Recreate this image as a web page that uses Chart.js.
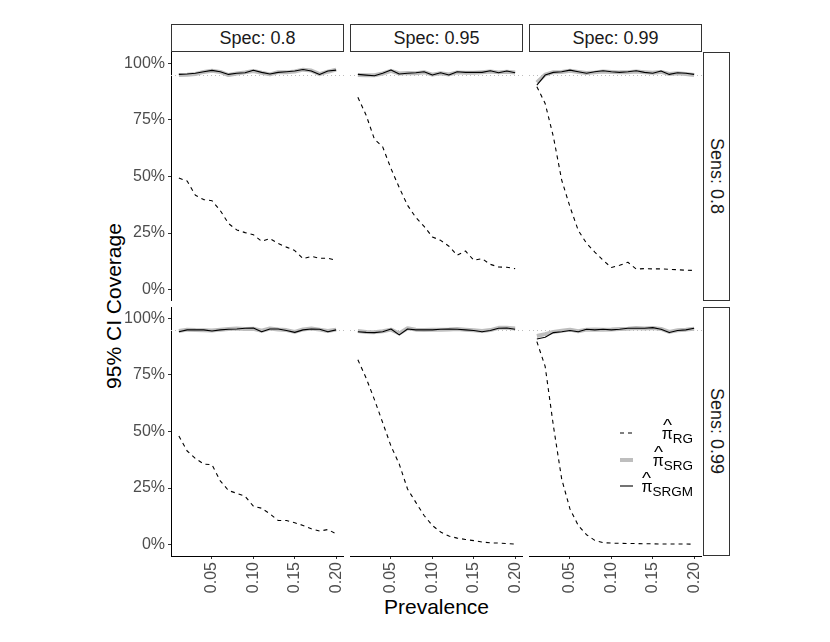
<!DOCTYPE html>
<html>
<head>
<meta charset="utf-8">
<title>95% CI Coverage</title>
<script src="https://cdn.jsdelivr.net/npm/chart.js@4.4.0/dist/chart.umd.min.js"></script>
<style>
    html, body { margin: 0; padding: 0; background: #fff; }
    #wrap {
        position: relative; width: 830px; height: 642px; overflow: hidden;
        font-family: 'Liberation Sans', Arial, Helvetica, sans-serif;
    }
    .panel { position: absolute; }
    .strip {
        position: absolute; box-sizing: border-box; border: 1px solid #333;
        background: #fff; color: #1a1a1a; font-size: 18px;
        display: flex; align-items: center; justify-content: center;
    }
    .strip.side span { writing-mode: vertical-rl; }
    .title { position: absolute; font-size: 21px; line-height: 21px; color: #000; white-space: nowrap; }
    .key { position: absolute; left: 619px; width: 15px; height: 10px; }
    .lab { position: absolute; right: 137px; font-size: 16px; line-height: 16px; color: #000; white-space: nowrap; }
    .pi { position: relative; display: inline-block; }
    .hat { position: absolute; left: 0; right: 0; top: -8px; text-align: center; transform: scaleX(1.2); }
    .sub { font-size: 13.5px; position: relative; top: 4px; }
</style>
</head>
<body>
<div id="wrap">
    <div class="title" style="left:112.5px;top:306px;transform:translate(-50%,-50%) rotate(-90deg);">95% CI Coverage</div>
    <div class="title" style="left:436.5px;top:605.5px;transform:translate(-50%,-50%);">Prevalence</div>
</div>
<script>
    // --- DATA ---
    const X_VALUES = [0.01, 0.02, 0.03, 0.04, 0.05, 0.06, 0.07, 0.08, 0.09, 0.10,
                      0.11, 0.12, 0.13, 0.14, 0.15, 0.16, 0.17, 0.18, 0.19, 0.20];
    const X_TICKS = [0.05, 0.10, 0.15, 0.20];
    const Y_TICKS = [0, 0.25, 0.50, 0.75, 1.00];
    const SPEC_LABELS = ['Spec: 0.8', 'Spec: 0.95', 'Spec: 0.99'];
    const SENS_LABELS = ['Sens: 0.8', 'Sens: 0.99'];
    const NOMINAL = 0.95;

    // Sens 0.8
    const rgSens80Spec80 = [0.493, 0.480, 0.417, 0.398, 0.393, 0.350, 0.292, 0.264, 0.252, 0.243,
                            0.214, 0.226, 0.204, 0.188, 0.173, 0.137, 0.147, 0.139, 0.139, 0.130];
    const srgSens80Spec80 = [0.948, 0.950, 0.953, 0.962, 0.967, 0.962, 0.948, 0.955, 0.960, 0.966,
                             0.958, 0.951, 0.961, 0.960, 0.964, 0.972, 0.968, 0.952, 0.963, 0.972];
    const srgmSens80Spec80 = [0.951, 0.953, 0.956, 0.963, 0.969, 0.963, 0.951, 0.956, 0.958, 0.969,
                              0.960, 0.953, 0.960, 0.963, 0.966, 0.973, 0.966, 0.951, 0.966, 0.970];

    const rgSens80Spec95 = [0.850, 0.771, 0.665, 0.631, 0.535, 0.451, 0.373, 0.319, 0.280, 0.233,
                            0.218, 0.192, 0.152, 0.171, 0.130, 0.137, 0.112, 0.100, 0.099, 0.093];
    const srgSens80Spec95 = [0.948, 0.947, 0.947, 0.955, 0.967, 0.955, 0.957, 0.956, 0.961, 0.950,
                             0.956, 0.951, 0.960, 0.958, 0.958, 0.961, 0.964, 0.960, 0.963, 0.959];
    const srgmSens80Spec95 = [0.951, 0.948, 0.945, 0.956, 0.970, 0.953, 0.956, 0.958, 0.963, 0.948,
                              0.958, 0.948, 0.963, 0.960, 0.960, 0.960, 0.967, 0.958, 0.966, 0.958];

    const rgSens80Spec99 = [0.897, 0.823, 0.675, 0.484, 0.366, 0.262, 0.205, 0.166, 0.130, 0.098,
                            0.108, 0.121, 0.091, 0.093, 0.092, 0.092, 0.090, 0.088, 0.086, 0.085];
    const srgSens80Spec99 = [0.915, 0.950, 0.961, 0.962, 0.967, 0.962, 0.957, 0.960, 0.964, 0.962,
                             0.960, 0.961, 0.964, 0.961, 0.958, 0.962, 0.953, 0.956, 0.953, 0.948];
    const srgmSens80Spec99 = [0.904, 0.948, 0.960, 0.963, 0.970, 0.963, 0.956, 0.963, 0.967, 0.963,
                              0.960, 0.963, 0.967, 0.960, 0.956, 0.966, 0.951, 0.958, 0.956, 0.951];

    // Sens 0.99
    const rgSens99Spec80 = [0.480, 0.414, 0.381, 0.356, 0.353, 0.282, 0.239, 0.227, 0.214, 0.170,
                            0.161, 0.136, 0.107, 0.107, 0.097, 0.085, 0.070, 0.060, 0.067, 0.048];
    const srgSens99Spec80 = [0.944, 0.950, 0.948, 0.947, 0.946, 0.950, 0.953, 0.955, 0.953, 0.954,
                             0.945, 0.955, 0.951, 0.948, 0.940, 0.951, 0.955, 0.950, 0.944, 0.950];
    const srgmSens99Spec80 = [0.941, 0.949, 0.949, 0.949, 0.944, 0.949, 0.952, 0.953, 0.956, 0.957,
                              0.941, 0.953, 0.953, 0.946, 0.938, 0.949, 0.953, 0.952, 0.941, 0.949];

    const rgSens99Spec95 = [0.817, 0.736, 0.641, 0.539, 0.436, 0.356, 0.246, 0.187, 0.129, 0.085,
                            0.056, 0.038, 0.029, 0.023, 0.018, 0.012, 0.008, 0.007, 0.005, 0.003];
    const srgSens99Spec95 = [0.944, 0.940, 0.939, 0.943, 0.950, 0.933, 0.956, 0.950, 0.948, 0.950,
                             0.950, 0.951, 0.953, 0.950, 0.947, 0.944, 0.948, 0.958, 0.958, 0.955];
    const srgmSens99Spec95 = [0.941, 0.938, 0.937, 0.941, 0.953, 0.927, 0.953, 0.949, 0.949, 0.949,
                              0.952, 0.953, 0.952, 0.949, 0.946, 0.941, 0.946, 0.956, 0.957, 0.952];

    const rgSens99Spec99 = [0.897, 0.788, 0.524, 0.290, 0.158, 0.085, 0.044, 0.019, 0.009, 0.007,
                            0.006, 0.005, 0.005, 0.004, 0.004, 0.003, 0.003, 0.003, 0.003, 0.002];
    const srgSens99Spec99 = [0.922, 0.930, 0.940, 0.945, 0.950, 0.943, 0.950, 0.951, 0.950, 0.951,
                             0.953, 0.954, 0.957, 0.955, 0.957, 0.953, 0.940, 0.947, 0.950, 0.954];
    const srgmSens99Spec99 = [0.909, 0.916, 0.937, 0.941, 0.946, 0.941, 0.952, 0.949, 0.952, 0.949,
                              0.952, 0.956, 0.956, 0.956, 0.959, 0.952, 0.937, 0.946, 0.949, 0.956];

    const PANELS = [
        { row: 0, col: 0, rg: rgSens80Spec80, srg: srgSens80Spec80, srgm: srgmSens80Spec80 },
        { row: 0, col: 1, rg: rgSens80Spec95, srg: srgSens80Spec95, srgm: srgmSens80Spec95 },
        { row: 0, col: 2, rg: rgSens80Spec99, srg: srgSens80Spec99, srgm: srgmSens80Spec99 },
        { row: 1, col: 0, rg: rgSens99Spec80, srg: srgSens99Spec80, srgm: srgmSens99Spec80 },
        { row: 1, col: 1, rg: rgSens99Spec95, srg: srgSens99Spec95, srgm: srgmSens99Spec95 },
        { row: 1, col: 2, rg: rgSens99Spec99, srg: srgSens99Spec99, srgm: srgmSens99Spec99 },
    ];

    // --- LAYOUT ---
    const COL_LEFT = [171, 350, 529];
    const ROW_TOP = [52, 307];
    const PANEL_W = 173;
    const PANEL_H = 249;
    const Y_AXIS_W = 71;
    const X_AXIS_H = 62;
    const X_MIN = 0.0005, X_MAX = 0.2095;   // data range + 5% each side
    const Y_MIN = -0.05, Y_MAX = 1.05;

    Chart.defaults.font.family = "'Liberation Sans', Arial, Helvetica, sans-serif";
    Chart.defaults.animation = false;

    const wrap = document.getElementById('wrap');

    // dotted reference line at the nominal coverage
    const nominalLine = {
        id: 'nominalLine',
        beforeDatasetsDraw(chart) {
            const { ctx, chartArea: a, scales: { y } } = chart;
            const py = Math.round(y.getPixelForValue(NOMINAL)) + 0.5;
            ctx.save();
            ctx.strokeStyle = '#bdbdbd';
            ctx.lineWidth = 1;
            ctx.setLineDash([1, 3]);
            ctx.beginPath();
            ctx.moveTo(a.left, py);
            ctx.lineTo(a.right, py);
            ctx.stroke();
            ctx.restore();
        }
    };

    function toPoints(values) {
        return values.map((v, i) => ({ x: X_VALUES[i], y: v }));
    }

    // fix the axis box size and drop the label overflow padding so the plot area is exact
    function fitAxis(axis, size, horizontal) {
        if (horizontal) axis.height = size; else axis.width = size;
        axis.paddingTop = 0;
        axis.paddingBottom = 0;
        axis.paddingLeft = 0;
        axis.paddingRight = 0;
    }

    function createPanel(p) {
        const showY = p.col === 0;
        const showX = p.row === 1;
        const box = document.createElement('div');
        box.className = 'panel';
        box.style.left = (COL_LEFT[p.col] - (showY ? Y_AXIS_W : 0)) + 'px';
        box.style.top = ROW_TOP[p.row] + 'px';
        box.style.width = (PANEL_W + (showY ? Y_AXIS_W : 0)) + 'px';
        box.style.height = (PANEL_H + (showX ? X_AXIS_H : 0)) + 'px';
        const canvas = document.createElement('canvas');
        box.appendChild(canvas);
        wrap.appendChild(box);

        new Chart(canvas, {
            type: 'line',
            data: {
                datasets: [
                    { label: 'SRGM', data: toPoints(p.srgm), borderColor: '#000', borderWidth: 1.1, order: 0 },
                    { label: 'SRG', data: toPoints(p.srg), borderColor: '#bebebe', borderWidth: 4, order: 1 },
                    { label: 'RG', data: toPoints(p.rg), borderColor: '#000', borderWidth: 1.1, borderDash: [4, 4], order: 2 }
                ]
            },
            options: {
                responsive: true,
                maintainAspectRatio: false,
                layout: { padding: 0, autoPadding: false },
                elements: {
                    point: { radius: 0 },
                    line: { tension: 0, fill: false, borderJoinStyle: 'round' }
                },
                plugins: { legend: { display: false }, tooltip: { enabled: false } },
                scales: {
                    x: {
                        type: 'linear',
                        min: X_MIN,
                        max: X_MAX,
                        display: showX,
                        afterBuildTicks: axis => { axis.ticks = X_TICKS.map(v => ({ value: v })); },
                        afterFit: axis => fitAxis(axis, showX ? X_AXIS_H : 0, true),
                        ticks: {
                            autoSkip: false,
                            minRotation: 90,
                            maxRotation: 90,
                            padding: 3,
                            color: '#4d4d4d',
                            font: { size: 16 },
                            callback: v => Number(v).toFixed(2)
                        },
                        grid: { display: true, drawOnChartArea: false, drawTicks: true, tickLength: 3, tickColor: '#333' },
                        border: { display: true, color: '#000', width: 1 }
                    },
                    y: {
                        min: Y_MIN,
                        max: Y_MAX,
                        display: showY,
                        afterBuildTicks: axis => { axis.ticks = Y_TICKS.map(v => ({ value: v })); },
                        afterFit: axis => fitAxis(axis, showY ? Y_AXIS_W : 0, false),
                        ticks: {
                            autoSkip: false,
                            padding: 3,
                            color: '#4d4d4d',
                            font: { size: 16 },
                            callback: v => Math.round(v * 100) + '%'
                        },
                        grid: { display: true, drawOnChartArea: false, drawTicks: true, tickLength: 3, tickColor: '#333' },
                        border: { display: true, color: '#000', width: 1 }
                    }
                }
            },
            plugins: [nominalLine]
        });
    }

    PANELS.forEach(createPanel);

    // --- FACET STRIPS ---
    SPEC_LABELS.forEach((txt, c) => {
        const s = document.createElement('div');
        s.className = 'strip';
        s.style.left = COL_LEFT[c] + 'px';
        s.style.top = '24px';
        s.style.width = PANEL_W + 'px';
        s.style.height = '28px';
        s.textContent = txt;
        wrap.appendChild(s);
    });
    SENS_LABELS.forEach((txt, r) => {
        const s = document.createElement('div');
        s.className = 'strip side';
        s.style.left = '703px';
        s.style.top = ROW_TOP[r] + 'px';
        s.style.width = '27px';
        s.style.height = PANEL_H + 'px';
        const span = document.createElement('span');
        span.textContent = txt;
        s.appendChild(span);
        wrap.appendChild(s);
    });

    // --- LEGEND ---
    const LEGEND = [
        { sub: 'RG', color: '#000', width: 1.1, dash: '4 4', keyY: 433, baseY: 439.5 },
        { sub: 'SRG', color: '#bebebe', width: 4, dash: '', keyY: 459.5, baseY: 466 },
        { sub: 'SRGM', color: '#000', width: 1.1, dash: '', keyY: 486, baseY: 492.5 }
    ];
    LEGEND.forEach(item => {
        const key = document.createElementNS('http://www.w3.org/2000/svg', 'svg');
        key.setAttribute('class', 'key');
        key.setAttribute('width', '15');
        key.setAttribute('height', '10');
        key.style.top = (item.keyY - 5) + 'px';
        key.innerHTML = '<line x1="1" y1="5" x2="14" y2="5" stroke="' + item.color + '" stroke-width="' + item.width + '"' +
            (item.dash ? ' stroke-dasharray="' + item.dash + '"' : '') + '/>';
        wrap.appendChild(key);

        const lab = document.createElement('div');
        lab.className = 'lab';
        lab.style.top = (item.baseY - 13.5) + 'px';
        lab.innerHTML = '<span class="pi">π<span class="hat">^</span></span><span class="sub">' + item.sub + '</span>';
        wrap.appendChild(lab);
    });
</script>
</body>
</html>
